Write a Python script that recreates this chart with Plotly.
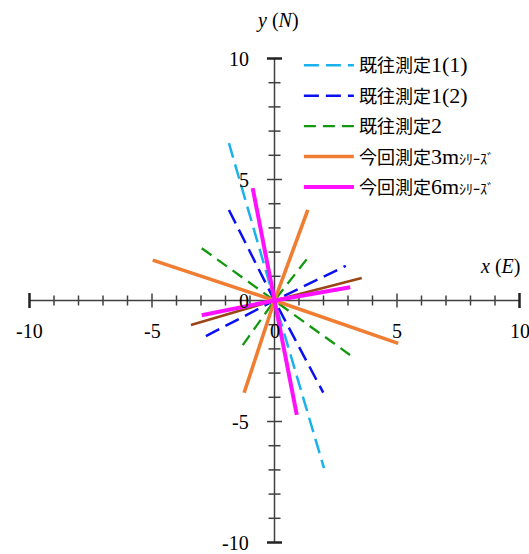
import plotly.graph_objects as go

# Survey line directions (E, N) in metres, each segment passing through the origin
prev1_1_x = [-1.86, 0, 2.02]
prev1_1_y = [6.50, 0, -6.93]

prev1_2_x = [-1.86, 0, 1.99, None, -2.80, 0, 2.91]
prev1_2_y = [3.74, 0, -3.81, None, -1.47, 0, 1.43]

prev2_x = [-2.97, 0, 3.08, None, 1.31, 0, -1.34]
prev2_y = [2.16, 0, -2.25, None, 1.70, 0, -1.91]

m3_x = [-4.97, 0, 5.05, None, 1.36, 0, -1.24]
m3_y = [1.67, 0, -1.77, None, 3.74, 0, -3.81]

m6_x = [-0.89, 0, 0.91, None, -2.97, 0, 3.09]
m6_y = [4.64, 0, -4.73, None, -0.61, 0, 0.55]

extra_x = [-3.41, 0, 3.56]
extra_y = [-1.01, 0, 0.93]

ASC = '<span style="font-size:22px">{}</span>'
KANA = '<span style="font-size:14px">{}</span>'
names = [
    "既往測定" + ASC.format("1(1)"),
    "既往測定" + ASC.format("1(2)"),
    "既往測定" + ASC.format("2"),
    "今回測定" + ASC.format("3m") + KANA.format("ｼﾘｰｽﾞ"),
    "今回測定" + ASC.format("6m") + KANA.format("ｼﾘｰｽﾞ"),
]

tick_vals = list(range(-10, 11))
label_vals = [-10, -5, 0, 5, 10]

W, H = 529, 554
X0, SX = 274.5, 24.5   # pixel of x=0, pixels per unit
Y0, SY = 300.5, 24.2

AX = "#404040"
FONT = "Liberation Serif, Times New Roman, Noto Sans CJK JP, serif"

fig = go.Figure()

# --- crossing axes drawn in data space ---
fig.add_trace(go.Scatter(x=[-10, 10], y=[0, 0], mode="lines",
                         line=dict(color=AX, width=1.5), showlegend=False, hoverinfo="skip"))
fig.add_trace(go.Scatter(x=[0, 0], y=[-10, 10], mode="lines",
                         line=dict(color=AX, width=1.5), showlegend=False, hoverinfo="skip"))


def tick_half(v, minor_px, major_px, scale):
    return (major_px if v % 5 == 0 else minor_px) / scale


# x-axis ticks (vertical marks)
tx, ty, cx, cy = [], [], [], []
for v in tick_vals:
    if v == 0:
        continue
    h = tick_half(v, 5, 7, SY)
    if abs(v) == 10:
        cx += [v, v, None]
        cy += [-7.5 / SY, 7.5 / SY, None]
    else:
        tx += [v, v, None]
        ty += [-h, h, None]
# y-axis ticks (horizontal marks)
for v in tick_vals:
    if v == 0:
        continue
    h = tick_half(v, 6, 7.5, SX)
    if abs(v) == 10:
        cx += [-7.5 / SX, 7.5 / SX, None]
        cy += [v, v, None]
    else:
        tx += [-h, h, None]
        ty += [v, v, None]

fig.add_trace(go.Scatter(x=tx, y=ty, mode="lines", line=dict(color=AX, width=1.5),
                         showlegend=False, hoverinfo="skip"))
fig.add_trace(go.Scatter(x=cx, y=cy, mode="lines", line=dict(color="#222222", width=2.5),
                         showlegend=False, hoverinfo="skip"))

# --- data series ---
dash = "15px,7px"
series = [
    (prev1_1_x, prev1_1_y, names[0], "#1ab2ec", 2.5, dash, True),
    (prev1_2_x, prev1_2_y, names[1], "#0a10f0", 2.5, dash, True),
    (prev2_x, prev2_y, names[2], "#12980f", 2.3, "12px,7px", True),
    (extra_x, extra_y, "", "#9a4514", 2.5, "solid", False),
    (m3_x, m3_y, names[3], "#ef7d32", 3.6, "solid", True),
    (m6_x, m6_y, names[4], "#ff10ff", 4.0, "solid", True),
]
for i, (xs, ys, nm, col, w, ds, leg) in enumerate(series):
    fig.add_trace(go.Scatter(x=xs, y=ys, mode="lines", name=nm, showlegend=leg,
                             legendgroup=f"g{i}",
                             line=dict(color=col, width=w, dash=ds)))

# --- tick labels ---
for v in label_vals:
    fig.add_annotation(x=v, y=0, text=str(v), showarrow=False,
                       xanchor="center", yanchor="middle", yshift=-30,
                       font=dict(family=FONT, size=20, color="black"))
    fig.add_annotation(x=0, y=v, text=str(v), showarrow=False,
                       xanchor="right", yanchor="middle", xshift=-24,
                       font=dict(family=FONT, size=20, color="black"))

# --- axis titles ---
fig.add_annotation(x=0, y=10, text="<i>y</i> (<i>N</i>)", showarrow=False,
                   xanchor="center", yanchor="middle", yshift=38, xshift=3,
                   font=dict(family=FONT, size=20, color="black"))
fig.add_annotation(x=10, y=0, text="<i>x</i> (<i>E</i>)", showarrow=False,
                   xanchor="right", yanchor="middle", yshift=34, xshift=2,
                   font=dict(family=FONT, size=20, color="black"))

fig.update_layout(
    width=W, height=H,
    margin=dict(l=0, r=0, t=0, b=0),
    paper_bgcolor="white", plot_bgcolor="white",
    xaxis=dict(range=[-X0 / SX, (W - X0) / SX], visible=False, fixedrange=True),
    yaxis=dict(range=[(Y0 - H) / SY, Y0 / SY], visible=False, fixedrange=True),
    legend=dict(x=0.565, y=0.915, xanchor="left", yanchor="top",
                bgcolor="rgba(0,0,0,0)", font=dict(family=FONT, size=18, color="black"),
                traceorder="grouped", tracegroupgap=4, itemwidth=50),
)

fig.write_html("out.html")
